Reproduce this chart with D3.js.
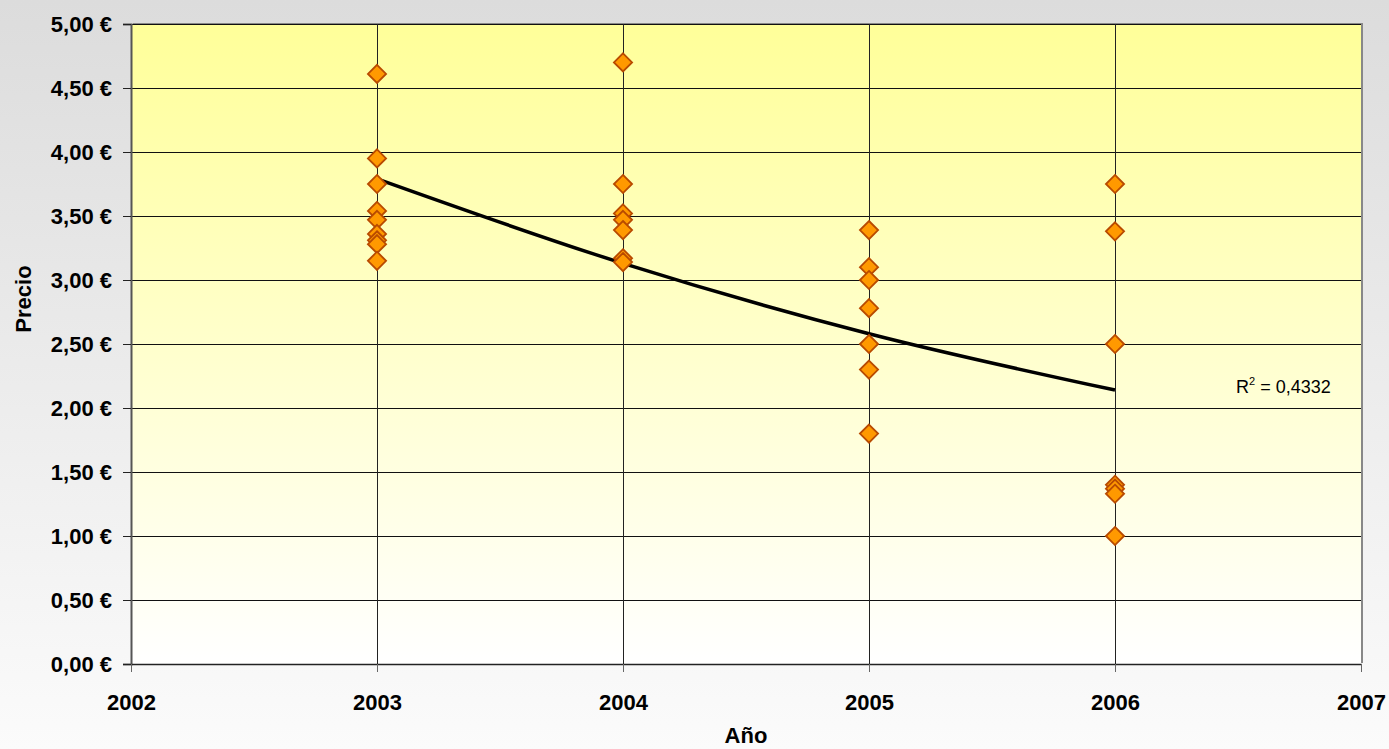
<!DOCTYPE html>
<html>
<head>
<meta charset="utf-8">
<script src="https://cdn.jsdelivr.net/npm/d3@7"></script>
<style>
  body { margin: 0; overflow: hidden; }
  svg { display: block; font-family: 'Liberation Sans', Arial, sans-serif; }
</style>
</head>
<body>
<div id="chart"></div>
<script>
const WIDTH = 1389
const HEIGHT = 749

// data
const years2003 = [4.61, 3.95, 3.75, 3.54, 3.47, 3.36, 3.31, 3.28, 3.15]
const years2004 = [4.70, 3.75, 3.52, 3.47, 3.39, 3.17, 3.14]
const years2005 = [3.39, 3.10, 3.00, 2.78, 2.50, 2.30, 1.80]
const years2006 = [3.75, 3.38, 2.50, 1.40, 1.37, 1.33, 1.00]
const yearLabels = [2003, 2004, 2005, 2006]
const trendYears = [2003, 2004, 2005, 2006]
const trendValues = [3.79, 3.13, 2.58, 2.14]
const xTicks = [2002, 2003, 2004, 2005, 2006, 2007]
const yTicks = [0, 0.5, 1, 1.5, 2, 2.5, 3, 3.5, 4, 4.5, 5]
const r2Text = '0,4332'

const points = [years2003, years2004, years2005, years2006]
    .flatMap((vals, i) => vals.map(v => ({ year: yearLabels[i], price: v })))

const fmt = v => d3.format('.2f')(v).replace('.', ',') + ' €'

const PL = 131, PR = 1361, PT = 24, PB = 664

const svg = d3.select('#chart')
    .append('svg')
    .attr('width', WIDTH)
    .attr('height', HEIGHT)

const defs = svg.append('defs')
const bgGrad = defs.append('linearGradient')
    .attr('id', 'bg').attr('x1', 0).attr('y1', 0).attr('x2', 0).attr('y2', 1)
bgGrad.append('stop').attr('offset', '0%').attr('stop-color', '#dcdcdc')
bgGrad.append('stop').attr('offset', '100%').attr('stop-color', '#fbfbfb')

const plotGrad = defs.append('linearGradient')
    .attr('id', 'plot').attr('x1', 0).attr('y1', 0).attr('x2', 0).attr('y2', 1)
plotGrad.append('stop').attr('offset', '0%').attr('stop-color', '#ffff99')
plotGrad.append('stop').attr('offset', '100%').attr('stop-color', '#ffffff')

svg.append('rect')
    .attr('width', WIDTH).attr('height', HEIGHT)
    .attr('fill', 'url(#bg)')

const xScale = d3.scaleLinear().domain([2002, 2007]).range([PL, PR])
const yScale = d3.scaleLinear().domain([0, 5]).range([PB, PT])

// plot area with shadow border top/right
svg.append('rect')
    .attr('x', PL + 2).attr('y', PT - 1)
    .attr('width', PR - PL).attr('height', PB - PT)
    .attr('fill', '#888')
svg.append('rect')
    .attr('x', PL).attr('y', PT)
    .attr('width', PR - PL).attr('height', PB - PT)
    .attr('fill', 'url(#plot)')

// horizontal grid
svg.append('g')
    .selectAll('line')
    .data(yTicks.slice(1))
    .join('line')
    .attr('x1', PL).attr('x2', PR)
    .attr('y1', d => Math.round(yScale(d)) + 0.5)
    .attr('y2', d => Math.round(yScale(d)) + 0.5)
    .attr('stroke', '#111')
    .attr('stroke-width', 1)

// vertical grid
svg.append('g')
    .selectAll('line')
    .data(xTicks.slice(1, -1))
    .join('line')
    .attr('x1', d => Math.round(xScale(d)) + 0.5)
    .attr('x2', d => Math.round(xScale(d)) + 0.5)
    .attr('y1', PT).attr('y2', PB)
    .attr('stroke', '#222')
    .attr('stroke-width', 1)

// y axis
const yAxis = svg.append('g')
    .attr('transform', `translate(${PL}, 0)`)
    .call(d3.axisLeft(yScale).tickValues(yTicks).tickFormat(fmt).tickSize(8).tickPadding(11))
yAxis.select('.domain').attr('stroke', '#555').attr('stroke-width', 2)
yAxis.selectAll('.tick line').attr('stroke', '#222')
yAxis.selectAll('.tick text')
    .attr('font-size', 22)
    .attr('font-weight', 'bold')
    .attr('fill', '#000')
    .attr('font-family', "'Liberation Sans', Arial, sans-serif")

// x axis
const xAxis = svg.append('g')
    .attr('transform', `translate(0, ${PB})`)
    .call(d3.axisBottom(xScale).tickValues(xTicks).tickFormat(d3.format('d')).tickSize(8).tickPadding(22).tickSizeOuter(0))
xAxis.select('.domain').attr('stroke', '#222').attr('stroke-width', 1.5)
xAxis.selectAll('.tick line').attr('stroke', '#666')
xAxis.selectAll('.tick text')
    .attr('font-size', 22)
    .attr('font-weight', 'bold')
    .attr('fill', '#000')
    .attr('font-family', "'Liberation Sans', Arial, sans-serif")

// trend line
const line = d3.line()
    .x(d => xScale(d[0]))
    .y(d => yScale(d[1]))
    .curve(d3.curveMonotoneX)
svg.append('path')
    .datum(d3.zip(trendYears, trendValues))
    .attr('d', line)
    .attr('fill', 'none')
    .attr('stroke', '#000')
    .attr('stroke-width', 3.5)

// points
svg.append('g')
    .selectAll('path')
    .data(points)
    .join('path')
    .attr('transform', d => `translate(${xScale(d.year)}, ${yScale(d.price)})`)
    .attr('d', d3.symbol(d3.symbolDiamond2, 210))
    .attr('fill', '#ff9900')
    .attr('stroke', '#b84a00')
    .attr('stroke-width', 1.8)

// R^2 label
const r2 = svg.append('text')
    .attr('x', 1236)
    .attr('y', 393)
    .attr('font-size', 18)
    .attr('fill', '#000')
r2.append('tspan').text('R')
r2.append('tspan').attr('dy', -8).attr('font-size', 11).text('2')
r2.append('tspan').attr('dy', 8).text(` = ${r2Text}`)

// axis titles
svg.append('text')
    .attr('x', 746).attr('y', 743)
    .attr('text-anchor', 'middle')
    .attr('font-size', 22)
    .attr('font-weight', 'bold')
    .text('Año')

svg.append('text')
    .attr('transform', 'translate(31, 299) rotate(-90)')
    .attr('text-anchor', 'middle')
    .attr('font-size', 22)
    .attr('font-weight', 'bold')
    .text('Precio')
</script>
</body>
</html>
